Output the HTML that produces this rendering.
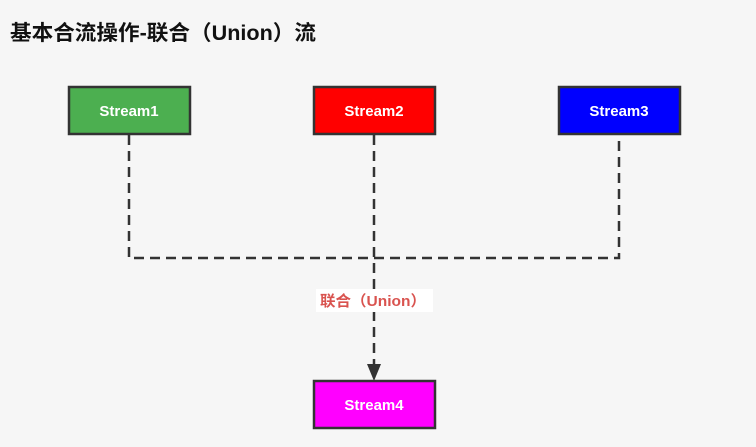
<!DOCTYPE html>
<html><head><meta charset="utf-8"><style>
body{margin:0;background:#f6f6f6;width:756px;height:447px;overflow:hidden;font-family:"Liberation Sans","Noto Sans CJK SC",sans-serif;}
</style></head><body>
<svg width="756" height="447" xmlns="http://www.w3.org/2000/svg" style="position:absolute;left:0;top:0">
<rect width="756" height="447" fill="#f6f6f6"/>
<text x="10" y="40" font-size="21" font-weight="bold" fill="#111" font-family="Liberation Sans,Noto Sans CJK SC,sans-serif" textLength="306" lengthAdjust="spacingAndGlyphs">基本合流操作-联合（Union）流</text>
<g stroke="#333" stroke-width="2.5" stroke-dasharray="10,6" fill="none">
<path d="M129 135 V258 H619 V135"/>
<path d="M374 135 V368"/>
</g>
<rect x="316" y="289" width="117" height="23" fill="#fff"/>
<polygon points="367,364 381,364 374,381" fill="#333"/>
<text x="320" y="306" font-size="15" font-weight="bold" fill="#d9534f" font-family="Liberation Sans,Noto Sans CJK SC,sans-serif" textLength="106" lengthAdjust="spacingAndGlyphs">联合（Union）</text>
<g stroke="#333" stroke-width="2.5">
<rect x="69" y="87" width="121" height="47" fill="#4caf50"/>
<rect x="314" y="87" width="121" height="47" fill="#ff0000"/>
<rect x="559" y="87" width="121" height="47" fill="#0000ff"/>
<rect x="314" y="381" width="121" height="47" fill="#ff00ff"/>
</g>
<g font-size="15" font-weight="bold" fill="#fff" text-anchor="middle" font-family="Liberation Sans,sans-serif">
<text x="129" y="116">Stream1</text>
<text x="374" y="116">Stream2</text>
<text x="619" y="116">Stream3</text>
<text x="374" y="410">Stream4</text>
</g>
</svg>
</body></html>
